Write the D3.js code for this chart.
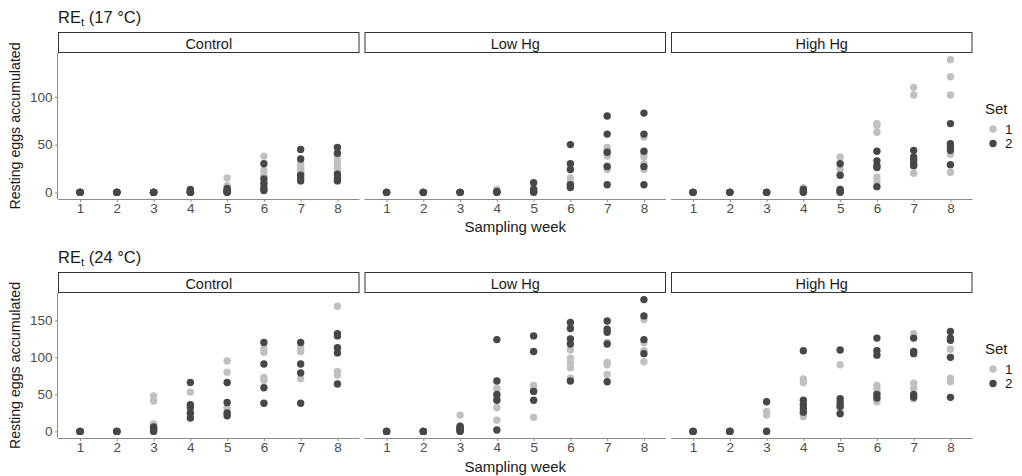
<!DOCTYPE html>
<html>
<head>
<meta charset="utf-8">
<script src="https://cdn.jsdelivr.net/npm/d3@7"></script>
<style>
  html, body { margin: 0; padding: 0; background: #fff; }
  svg { display: block; font-family: "Liberation Sans", Arial, sans-serif; }
</style>
</head>
<body>
<svg id="chart" width="1022" height="476"></svg>
<script>
// ---------- data ----------
const weeks = [1, 2, 3, 4, 5, 6, 7, 8];
const treatments = ["Control", "Low Hg", "High Hg"];
const sets = ["1", "2"];
const temps = ["17", "24"];
const yTicks17 = [0, 50, 100];
const yTicks24 = [0, 50, 100, 150];

// values per week (index 0 = week 1), RE accumulated, 17 °C
const t17_control_set1 = [[0,0,0,0,0],[0,0,0,0,0],[0,0,0,0,0],[2,1,0,0,0],[15,7,3,1,0],[38,23,18,10,5],[30,27,24,22,20],[38,34,30,25,21]];
const t17_control_set2 = [[0,0,0,0,0],[0,0,0,0,0],[0,0,0,0,0],[3,1,0,0,0],[4,2,1,0,0],[30,14,9,4,2],[45,35,18,12,15],[47,41,19,12,15]];
const t17_low_set1 = [[0,0,0],[0,0,0],[0,0,0],[3,1,0],[4,2,0],[15,10,8,6],[47,43,38,28,24],[58,40,37,30,24]];
const t17_low_set2 = [[0,0,0],[0,0,0],[0,0,0],[1,0,0],[10,3,1,0],[50,30,24,8,5],[80,61,42,27,8],[83,61,43,27,8]];
const t17_high_set1 = [[0,0,0],[0,0,0],[0,0,0],[5,2,0],[37,24,3,1,0],[72,70,63,16,11],[110,102,33,28,20],[139,121,102,40,21]];
const t17_high_set2 = [[0,0,0],[0,0,0],[0,0,0],[3,1,0],[30,18,3,1,0],[43,33,28,26,6],[44,37,34,30,28],[72,51,47,44,29]];

// 24 °C
const t24_control_set1 = [[0,0,0],[0,0,0],[48,41,10,5,2],[53,30,22],[95,80,32,25],[112,107,73,69],[113,108,71],[169,81,76]];
const t24_control_set2 = [[0,0,0],[0,0,0],[6,4,2,0],[66,36,33,25,18],[66,39,25,21],[120,91,59,38],[120,91,79,38],[132,129,113,106,64]];
const t24_low_set1 = [[0,0,0],[0,0,0],[22,5,2],[58,47,43,32,15],[62,57,19],[110,99,92,86,72],[120,93,90,77],[151,120,109,94]];
const t24_low_set2 = [[0,0,0],[0,0,0],[7,5,3,1,0],[124,68,50,42,2],[129,108,54,42],[147,139,125,118,68],[149,138,134,118,67],[178,156,124,105]];
const t24_high_set1 = [[0,0,0],[0,0,0],[27,22,1],[71,66,24,20],[90,34,31],[62,56,51,45,40],[132,65,58,44],[111,72,67]];
const t24_high_set2 = [[0,0,0],[0,0,0],[40,0],[109,42,36,31,26],[110,44,39,34,24],[126,109,103,50,45],[126,108,105,50,46],[135,126,123,100,46]];

const dataTable = {
  "17": [[t17_control_set1, t17_control_set2], [t17_low_set1, t17_low_set2], [t17_high_set1, t17_high_set2]],
  "24": [[t24_control_set1, t24_control_set2], [t24_low_set1, t24_low_set2], [t24_high_set1, t24_high_set2]]
};

// ---------- layout ----------
const svg = d3.select("#chart");
const setColor = d3.scaleOrdinal().domain(sets).range(["#c0c0c0", "#474747"]);
const panelX0 = [58, 364.5, 671];
const panelW = 301.5;
const rows = [
  { temp: "17", stripTop: 32, top: 53, bottom: 199, ticks: yTicks17, titleY: 22.5, xlabY: 232, legY: 114 },
  { temp: "24", stripTop: 272, top: 293, bottom: 438, ticks: yTicks24, titleY: 262.5, xlabY: 472, legY: 354 }
];
const axisColor = "#8c8c8c";
const textColor = "#4d4d4d";
const FONT = "Liberation Sans, Arial, sans-serif";

rows.forEach(row => {
  const tbl = dataTable[row.temp];
  const allVals = tbl.flat(3);
  const ymax = d3.max(allVals), ymin = 0;
  const pad = (ymax - ymin) * 0.05;
  const y = d3.scaleLinear().domain([ymin - pad, ymax + pad]).range([row.bottom, row.top]);

  // title
  const title = svg.append("text").attr("x", 58).attr("y", row.titleY)
    .attr("font-size", 16.5).attr("fill", "#1a1a1a");
  title.append("tspan").text("RE");
  title.append("tspan").attr("font-size", 11.5).attr("dy", 3.5).text("t");
  title.append("tspan").attr("dy", -3.5).text(" (" + row.temp + " \u00B0C)");

  treatments.forEach((tr, ti) => {
    const x0 = panelX0[ti];
    const x = d3.scalePoint().domain(weeks).range([x0, x0 + panelW]).padding(0.6);

    // strip
    svg.append("rect").attr("x", x0 + 0.5).attr("y", row.stripTop + 0.5)
      .attr("width", panelW - 1).attr("height", row.top - row.stripTop - 1)
      .attr("fill", "#fff").attr("stroke", "#333").attr("stroke-width", 1);
    svg.append("text").attr("x", x0 + panelW / 2).attr("y", row.stripTop + 17)
      .attr("text-anchor", "middle").attr("font-size", 14.5).attr("fill", "#1a1a1a").text(tr);

    // x axis
    const gx = svg.append("g").attr("transform", `translate(0,${row.bottom})`)
      .call(d3.axisBottom(x).tickSize(3).tickPadding(1.5).tickSizeOuter(0));
    gx.select(".domain").attr("stroke", axisColor).attr("d", `M${x0},0.5H${x0 + panelW}`);
    gx.selectAll(".tick line").attr("stroke", axisColor);
    gx.selectAll(".tick text").attr("font-size", 13.5).attr("fill", textColor).attr("font-family", FONT);

    // y axis only first panel
    if (ti === 0) {
      const gy = svg.append("g").attr("transform", `translate(${x0},0)`)
        .call(d3.axisLeft(y).tickValues(row.ticks).tickSize(3).tickPadding(2.5).tickSizeOuter(0));
      gy.select(".domain").attr("stroke", axisColor).attr("d", `M-0.5,${row.top}V${row.bottom}`);
      gy.selectAll(".tick line").attr("stroke", axisColor);
      gy.selectAll(".tick text").attr("font-size", 13.5).attr("fill", textColor).attr("font-family", FONT);
    }

    // points: set 1 first, then set 2
    sets.forEach((s, si) => {
      const pts = [];
      tbl[ti][si].forEach((vals, wi) => vals.forEach(v => pts.push({ week: weeks[wi], v })));
      svg.append("g").selectAll("circle").data(pts).join("circle")
        .attr("cx", d => x(d.week)).attr("cy", d => y(d.v))
        .attr("r", 3.7).attr("fill", setColor(s));
    });
  });

  // y title
  const yc = (row.top + row.bottom) / 2;
  svg.append("text").attr("transform", `translate(20,${yc}) rotate(-90)`)
    .attr("text-anchor", "middle").attr("font-size", 14.2).attr("fill", "#1a1a1a")
    .text("Resting eggs accumulated");

  // x title
  svg.append("text").attr("x", (panelX0[0] + panelX0[2] + panelW) / 2).attr("y", row.xlabY)
    .attr("text-anchor", "middle").attr("font-size", 15).attr("fill", "#1a1a1a")
    .text("Sampling week");

  // legend
  svg.append("text").attr("x", 985).attr("y", row.legY).attr("font-size", 15)
    .attr("fill", "#1a1a1a").text("Set");
  sets.forEach((s, i) => {
    const cy = row.legY + 15 + i * 14.5;
    svg.append("circle").attr("cx", 993).attr("cy", cy).attr("r", 3.7).attr("fill", setColor(s));
    svg.append("text").attr("x", 1005).attr("y", cy + 4.8).attr("font-size", 13.5)
      .attr("fill", "#1a1a1a").text(s);
  });
});
</script>
</body>
</html>
